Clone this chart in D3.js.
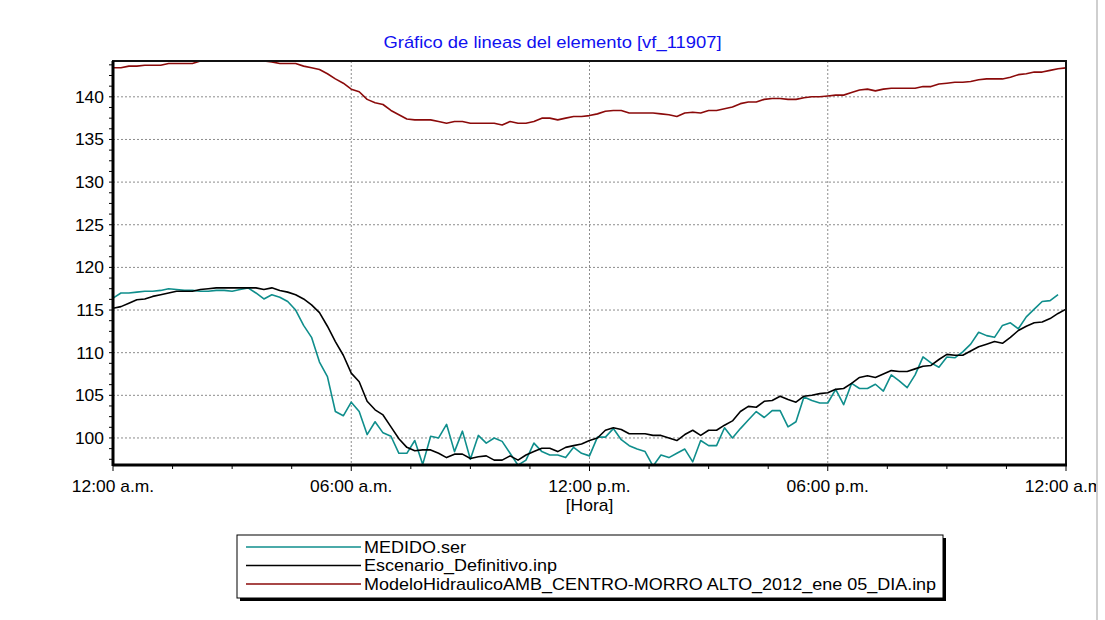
<!DOCTYPE html>
<html>
<head>
<meta charset="utf-8">
<script src="https://cdn.jsdelivr.net/npm/d3@7"></script>
<style>
  body { margin: 0; background: #fff; }
  text { font-family: Arial, "Liberation Sans", sans-serif; }
</style>
</head>
<body>
<div id="chart"></div>
<script>
// muestras cada 12 minutos (horas desde las 12:00 a.m.)
const stepHours = 0.2;

const medido = [
  116.4, 117.0, 117.0, 117.1, 117.2, 117.2, 117.3, 117.5, 117.4, 117.3,
  117.3, 117.2, 117.2, 117.3, 117.3, 117.2, 117.4, 117.6, 117.0, 116.3,
  116.8, 116.5, 116.0, 115.0, 113.2, 111.8, 108.9, 107.2, 103.1, 102.6,
  104.2, 103.1, 100.4, 101.9, 100.6, 100.2, 98.2, 98.2, 99.7, 96.9,
  100.2, 100.0, 101.6, 98.4, 100.8, 97.5, 100.3, 99.4, 100.0, 99.6,
  98.2, 96.8, 97.4, 99.4, 98.4, 98.0, 98.0, 97.7, 98.9, 98.2,
  97.9, 100.1, 100.1, 101.1, 99.8, 99.1, 98.7, 98.4, 96.7, 98.0,
  97.7, 98.2, 98.7, 97.2, 99.7, 99.1, 99.1, 101.2, 100.0, 101.1,
  102.1, 103.1, 102.4, 103.2, 103.2, 101.3, 101.9, 104.8, 104.4, 104.1,
  104.1, 105.7, 103.9, 106.4, 105.8, 105.8, 106.3, 105.5, 107.4, 106.7,
  105.9, 107.4, 109.5, 108.8, 108.3, 109.5, 109.4, 110.1, 111.0, 112.4,
  112.0, 111.8, 113.2, 113.5, 112.8, 114.2, 115.1, 116.0, 116.1, 116.8,
];

const escenario = [
  115.2, 115.4, 115.8, 116.2, 116.3, 116.6, 116.8, 117.0, 117.2, 117.2,
  117.2, 117.4, 117.5, 117.6, 117.6, 117.6, 117.6, 117.6, 117.6, 117.4,
  117.6, 117.3, 117.1, 116.8, 116.3, 115.6, 114.7, 113.1, 111.3, 109.7,
  107.6, 106.6, 104.3, 103.3, 102.7, 101.3, 99.9, 98.9, 98.5, 98.6,
  98.6, 98.2, 97.7, 98.1, 98.1, 97.6, 97.8, 97.9, 97.4, 97.4,
  97.9, 97.4, 98.0, 98.4, 98.8, 98.8, 98.4, 98.9, 99.1, 99.3,
  99.7, 100.0, 100.9, 101.2, 101.0, 100.5, 100.5, 100.5, 100.3, 100.3,
  100.0, 99.7, 100.4, 100.9, 100.3, 100.9, 100.9, 101.5, 102.0, 103.1,
  103.7, 103.6, 104.3, 104.4, 104.9, 104.5, 104.2, 104.9, 105.0, 105.2,
  105.3, 105.7, 105.8, 106.4, 107.1, 107.3, 107.1, 107.5, 107.9, 107.8,
  107.8, 108.1, 108.4, 108.5, 109.2, 109.8, 109.7, 109.7, 110.2, 110.7,
  111.0, 111.3, 111.1, 111.8, 112.6, 113.1, 113.5, 113.6, 114.0, 114.6, 115.1,
];

const modelo = [
  143.4, 143.4, 143.6, 143.6, 143.7, 143.7, 143.7, 143.9, 143.9, 143.9,
  143.9, 144.2, 144.2, 144.2, 144.2, 144.2, 144.2, 144.2, 144.2, 144.2,
  144.1, 143.9, 143.9, 143.9, 143.6, 143.4, 143.2, 142.7, 142.1, 141.6,
  140.9, 140.6, 139.7, 139.3, 139.1, 138.4, 137.9, 137.4, 137.3, 137.3,
  137.3, 137.1, 136.9, 137.1, 137.1, 136.9, 136.9, 136.9, 136.9, 136.7,
  137.1, 136.9, 136.9, 137.1, 137.5, 137.5, 137.3, 137.5, 137.7, 137.7,
  137.8, 138.0, 138.3, 138.4, 138.4, 138.1, 138.1, 138.1, 138.1, 138.0,
  137.9, 137.7, 138.1, 138.2, 138.1, 138.4, 138.4, 138.6, 138.8, 139.2,
  139.4, 139.4, 139.7, 139.8, 139.8, 139.7, 139.7, 139.9, 140.0, 140.0,
  140.1, 140.2, 140.2, 140.5, 140.8, 140.9, 140.7, 140.9, 141.0, 141.0,
  141.0, 141.0, 141.2, 141.2, 141.5, 141.6, 141.7, 141.7, 141.8, 142.0,
  142.1, 142.1, 142.1, 142.3, 142.6, 142.7, 142.9, 142.9, 143.1, 143.3, 143.4,
];

const xTickHours = [0, 6, 12, 18, 24];
const xTickLabels = ["12:00 a.m.", "06:00 a.m.", "12:00 p.m.", "06:00 p.m.", "12:00 a.m."];
const yTicks = [100, 105, 110, 115, 120, 125, 130, 135, 140];

const seriesNames = [
  "MEDIDO.ser",
  "Escenario_Definitivo.inp",
  "ModeloHidraulicoAMB_CENTRO-MORRO ALTO_2012_ene 05_DIA.inp",
];
const seriesColors = ["#0f8e8c", "#000000", "#8b0a0a"];

const width = 1105;
const height = 620;
const plot = { left: 113, right: 1066, top: 61, bottom: 465 };

const svg = d3
  .select("#chart")
  .append("svg")
  .attr("width", width)
  .attr("height", height);

const x = d3.scaleLinear().domain([0, 24]).range([plot.left, plot.right]);
const y = d3.scaleLinear().domain([96.83, 144.2]).range([plot.bottom, plot.top]);

// texto algo ensanchado como en la captura original
function addText(parent, px, py, str, anchor, opts = {}) {
  return parent
    .append("text")
    .attr("transform", `translate(${px},${py}) scale(${opts.stretch || 1.09},1)`)
    .attr("text-anchor", anchor)
    .style("font-size", `${opts.size || 16}px`)
    .attr("fill", opts.color || "#000")
    .text(str);
}

const defs = svg.append("defs");
defs
  .append("clipPath")
  .attr("id", "plot-clip")
  .append("rect")
  .attr("x", plot.left)
  .attr("y", plot.top - 1)
  .attr("width", plot.right - plot.left)
  .attr("height", plot.bottom - plot.top + 1);
defs
  .append("clipPath")
  .attr("id", "label-clip")
  .append("rect")
  .attr("x", 0)
  .attr("y", 0)
  .attr("width", 1096)
  .attr("height", height);

svg
  .append("line")
  .attr("x1", 1097)
  .attr("x2", 1097)
  .attr("y1", 0)
  .attr("y2", height)
  .attr("stroke", "#cfcfcf")
  .attr("stroke-width", 2);

addText(svg, width / 2, 48, "Gráfico de lineas del elemento [vf_11907]", "middle", {
  stretch: 1.15,
  color: "#1010f0",
});

// rejilla punteada
svg
  .append("g")
  .selectAll("line")
  .data(yTicks)
  .join("line")
  .attr("x1", plot.left)
  .attr("x2", plot.right)
  .attr("y1", (d) => y(d))
  .attr("y2", (d) => y(d))
  .attr("stroke", "#8c8c8c")
  .attr("stroke-dasharray", "2,2");

svg
  .append("g")
  .selectAll("line")
  .data(xTickHours.slice(1, -1))
  .join("line")
  .attr("x1", (d) => x(d))
  .attr("x2", (d) => x(d))
  .attr("y1", plot.top)
  .attr("y2", plot.bottom)
  .attr("stroke", "#8c8c8c")
  .attr("stroke-dasharray", "2,2");

// marcas menores
const yMinor = d3.range(97.5, 144.1, 1.25);
svg
  .append("g")
  .selectAll("line")
  .data(yMinor)
  .join("line")
  .attr("x1", plot.left - 4)
  .attr("x2", plot.left)
  .attr("y1", (d) => y(d))
  .attr("y2", (d) => y(d))
  .attr("stroke", "#000");

const xMinor = d3.range(0, 24.01, 1.5);
svg
  .append("g")
  .selectAll("line")
  .data(xMinor)
  .join("line")
  .attr("x1", (d) => x(d))
  .attr("x2", (d) => x(d))
  .attr("y1", plot.bottom)
  .attr("y2", (d) => plot.bottom + (d % 6 === 0 ? 6 : 4))
  .attr("stroke", "#000");

const line = d3
  .line()
  .x((d, i) => x(i * stepHours))
  .y((d) => y(d));

const lines = svg.append("g").attr("clip-path", "url(#plot-clip)");
[medido, escenario, modelo].forEach((values, k) => {
  lines
    .append("path")
    .datum(values)
    .attr("fill", "none")
    .attr("stroke", seriesColors[k])
    .attr("stroke-width", 1.6)
    .attr("stroke-linejoin", "round")
    .attr("d", line);
});

// marco del gráfico
svg
  .append("rect")
  .attr("x", plot.left)
  .attr("y", plot.top)
  .attr("width", plot.right - plot.left)
  .attr("height", plot.bottom - plot.top)
  .attr("fill", "none")
  .attr("stroke", "#111")
  .attr("stroke-width", 2);

svg
  .append("line")
  .attr("x1", plot.left)
  .attr("x2", plot.left)
  .attr("y1", plot.top)
  .attr("y2", plot.bottom + 1)
  .attr("stroke", "#000")
  .attr("stroke-width", 3);

svg
  .append("line")
  .attr("x1", plot.left)
  .attr("x2", plot.right + 1)
  .attr("y1", plot.bottom)
  .attr("y2", plot.bottom)
  .attr("stroke", "#000")
  .attr("stroke-width", 3);

yTicks.forEach((v) => {
  addText(svg, plot.left - 9, y(v) + 6, v, "end");
});

// la última etiqueta queda recortada por el borde de la ventana
const xLabelGroup = svg.append("g").attr("clip-path", "url(#label-clip)");
xTickHours.forEach((h, i) => {
  addText(xLabelGroup, x(h), 492, xTickLabels[i], "middle");
});

addText(svg, x(12), 511, "[Hora]", "middle");

// leyenda
const legend = { x: 237, y: 535, w: 706, h: 63 };
svg
  .append("rect")
  .attr("x", legend.x + 3)
  .attr("y", legend.y + 3)
  .attr("width", legend.w)
  .attr("height", legend.h)
  .attr("fill", "#000");
svg
  .append("rect")
  .attr("x", legend.x)
  .attr("y", legend.y)
  .attr("width", legend.w)
  .attr("height", legend.h)
  .attr("fill", "#fff")
  .attr("stroke", "#000")
  .attr("stroke-width", 1);

seriesNames.forEach((name, k) => {
  const ly = legend.y + 12 + k * 18.5;
  svg
    .append("line")
    .attr("x1", legend.x + 9)
    .attr("x2", legend.x + 124)
    .attr("y1", ly)
    .attr("y2", ly)
    .attr("stroke", seriesColors[k])
    .attr("stroke-width", 1.4);
  addText(svg, legend.x + 127, ly + 5.5, name, "start", { stretch: 1.125 });
});
</script>
</body>
</html>
